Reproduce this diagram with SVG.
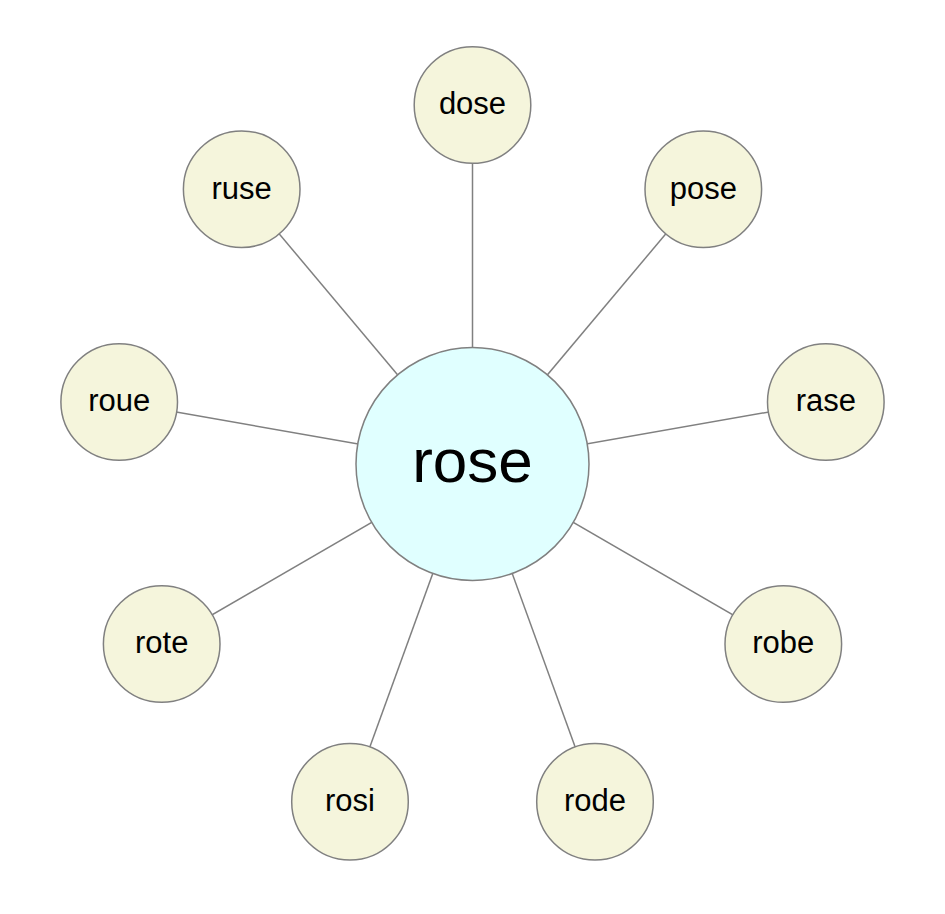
<svg xmlns="http://www.w3.org/2000/svg" width="945" height="914" viewBox="0 0 945 914">
<style>
.edge{stroke:#808080;stroke-width:1.5;fill:none}
.leaf{fill:#f5f5dc;stroke:#808080;stroke-width:1.5}
.hub{fill:#e0ffff;stroke:#808080;stroke-width:1.5}
text{font-family:"Liberation Sans",Arial,sans-serif;fill:#000;text-anchor:middle}
.lt{font-size:31px}
.ht{font-size:62px}
</style>
<rect width="945" height="914" fill="#ffffff"/>
<g id="connectors">
<line class="edge" x1="472.5" y1="464" x2="472.5" y2="105"/>
<line class="edge" x1="472.5" y1="464" x2="703.3" y2="189.2"/>
<line class="edge" x1="472.5" y1="464" x2="825.8" y2="402"/>
<line class="edge" x1="472.5" y1="464" x2="783.3" y2="644"/>
<line class="edge" x1="472.5" y1="464" x2="595" y2="801.7"/>
<line class="edge" x1="472.5" y1="464" x2="350" y2="801.7"/>
<line class="edge" x1="472.5" y1="464" x2="161.7" y2="644"/>
<line class="edge" x1="472.5" y1="464" x2="119.2" y2="402"/>
<line class="edge" x1="472.5" y1="464" x2="241.7" y2="189.2"/>
</g>
<g id="rose"><circle class="hub" cx="472.5" cy="464" r="116.5"/><text class="ht" x="472.5" y="481.7">rose</text></g>
<g id="dose"><circle class="leaf" cx="472.5" cy="105" r="58.3"/><text class="lt" x="472.5" y="114.3">dose</text></g>
<g id="pose"><circle class="leaf" cx="703.3" cy="189.2" r="58.3"/><text class="lt" x="703.3" y="198.5">pose</text></g>
<g id="rase"><circle class="leaf" cx="825.8" cy="402" r="58.3"/><text class="lt" x="825.8" y="411.3">rase</text></g>
<g id="robe"><circle class="leaf" cx="783.3" cy="644" r="58.3"/><text class="lt" x="783.3" y="653.3">robe</text></g>
<g id="rode"><circle class="leaf" cx="595" cy="801.7" r="58.3"/><text class="lt" x="595" y="811">rode</text></g>
<g id="rosi"><circle class="leaf" cx="350" cy="801.7" r="58.3"/><text class="lt" x="350" y="811">rosi</text></g>
<g id="rote"><circle class="leaf" cx="161.7" cy="644" r="58.3"/><text class="lt" x="161.7" y="653.3">rote</text></g>
<g id="roue"><circle class="leaf" cx="119.2" cy="402" r="58.3"/><text class="lt" x="119.2" y="411.3">roue</text></g>
<g id="ruse"><circle class="leaf" cx="241.7" cy="189.2" r="58.3"/><text class="lt" x="241.7" y="198.5">ruse</text></g>
</svg>
